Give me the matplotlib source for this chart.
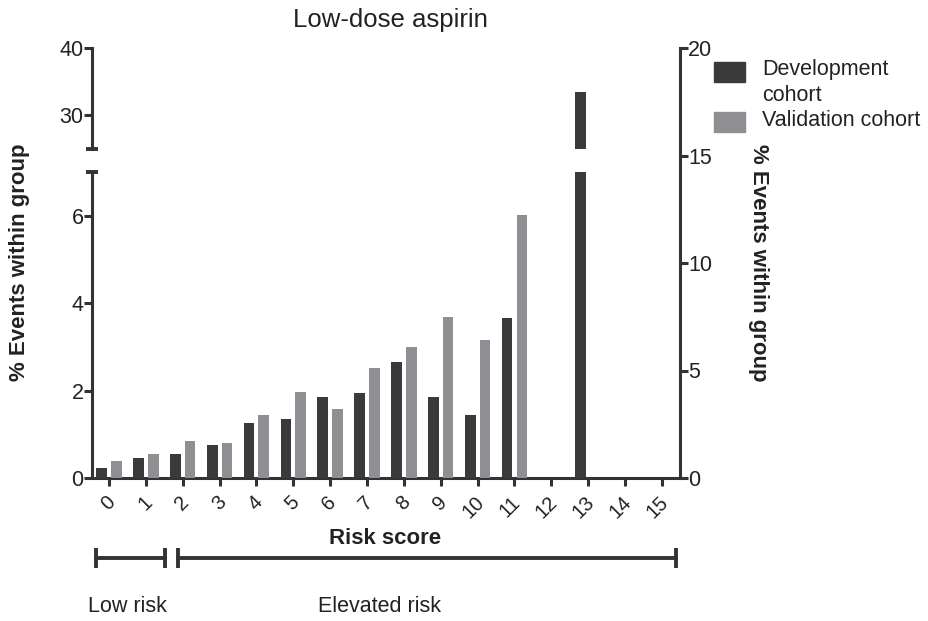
import numpy as np
import matplotlib
matplotlib.use("Agg")
import matplotlib.pyplot as plt
import matplotlib.transforms as mtransforms
from matplotlib.patches import Rectangle

plt.rcParams["font.family"] = ["Liberation Sans", "DejaVu Sans"]

# ---- data ----
risk_scores = list(range(16))
development = [0.22, 0.45, 0.55, 0.76, 1.25, 1.36, 1.85, 1.95, 2.65, 1.85, 1.45, 3.65, 0, 33.4, 0, 0]
validation = [0.38, 0.55, 0.85, 0.80, 1.44, 1.97, 1.58, 2.51, 3.00, 3.69, 3.16, 6.02, 0, 0, 0, 0]
lower_ticks = [0, 2, 4, 6]
upper_ticks = [30, 40]
right_ticks = [0, 5, 10, 15, 20]
groups = [("Low risk", -0.35, 1.52, 0.49), ("Elevated risk", 1.87, 15.37, 7.34)]
series_names = ["Development\ncohort", "Validation cohort"]

DARK = "#3a3a3a"
GREY = "#8f8f93"
AX = "#333333"
TXT = "#222222"
LW = 2.2
FS = 15.5

W_PX, H_PX = 929, 621
fig = plt.figure(figsize=(W_PX / 100, H_PX / 100), dpi=100)

def rect(x0, y_top, x1, y_bot):
    return [x0 / W_PX, 1 - y_bot / H_PX, (x1 - x0) / W_PX, (y_bot - y_top) / H_PX]

ax_r = fig.add_axes(rect(92, 48, 680, 478))
ax_lo = fig.add_axes(rect(92, 172, 680, 478))
ax_hi = fig.add_axes(rect(92, 48, 680, 149))

x = np.arange(len(risk_scores))
off, bw = 0.2, 0.29
xlim = (-0.46, 15.49)

for ax in (ax_lo, ax_hi):
    ax.bar(x - off, development, bw, color=DARK, zorder=3)
    ax.bar(x + off, validation, bw, color=GREY, zorder=3)
    ax.set_xlim(*xlim)
    ax.set_facecolor("none")
    for s in ("top", "right"):
        ax.spines[s].set_visible(False)
    ax.spines["left"].set_linewidth(LW)
    ax.spines["left"].set_color(AX)
    ax.tick_params(axis="y", direction="out", length=5.5, width=LW, color=AX,
                   labelsize=FS, labelcolor=TXT, pad=0.5)

ax_lo.set_ylim(0, 7)
ax_lo.set_yticks(lower_ticks)
ax_lo.spines["bottom"].set_linewidth(LW)
ax_lo.spines["bottom"].set_color(AX)
ax_lo.set_xticks(x)
ax_lo.set_xticklabels([str(v) for v in risk_scores], rotation=45, ha="right", va="top")
ax_lo.tick_params(axis="x", direction="out", length=5.5, width=LW, color=AX,
                  labelsize=14.5, labelcolor=TXT, pad=5)
shift = mtransforms.ScaledTranslation(10 / 100, 0, fig.dpi_scale_trans)
for lbl in ax_lo.get_xticklabels():
    lbl.set_transform(lbl.get_transform() + shift)

ax_hi.set_ylim(25, 40)
ax_hi.set_yticks(upper_ticks)
ax_hi.spines["bottom"].set_visible(False)
ax_hi.set_xticks([])

# caps at the axis break
for ax, yv in ((ax_lo, 7), (ax_hi, 25)):
    tr = mtransforms.blended_transform_factory(ax.transAxes, ax.transData)
    ax.plot([-0.010, 0.010], [yv, yv], transform=tr, color=AX, lw=LW + 0.6,
            solid_capstyle="butt", clip_on=False)

# right axis
ax_r.set_ylim(0, 20)
ax_r.set_xlim(*xlim)
ax_r.set_facecolor("none")
for s in ("top", "left", "bottom"):
    ax_r.spines[s].set_visible(False)
ax_r.spines["right"].set_linewidth(LW)
ax_r.spines["right"].set_color(AX)
ax_r.set_xticks([])
ax_r.yaxis.tick_right()
ax_r.yaxis.set_label_position("right")
ax_r.set_yticks(right_ticks)
ax_r.tick_params(axis="y", direction="out", length=5.5, width=LW, color=AX,
                 labelsize=FS, labelcolor=TXT, pad=0.5)
ax_r.set_ylabel("% Events within group", rotation=270, fontsize=16,
                fontweight="bold", color=TXT, labelpad=41)

# left y label spanning both segments
fig.text(20 / W_PX, 1 - 262 / H_PX, "% Events within group", rotation=90,
         fontsize=16, fontweight="bold", color=TXT, ha="center", va="center")

fig.text(390 / W_PX, 1 - 20 / H_PX, "Low-dose aspirin", fontsize=18.5,
         color=TXT, ha="center", va="center")

# x label and risk group brackets
trx = mtransforms.blended_transform_factory(ax_lo.transData, fig.transFigure)
ax_lo.text(7.5, 1 - 538 / H_PX, "Risk score", transform=trx, fontsize=16,
           fontweight="bold", color=TXT, ha="center", va="center")
yb = 1 - 558 / H_PX
cap = 10 / H_PX
for name, a, b, xc in groups:
    ax_lo.plot([a, b], [yb, yb], transform=trx, color=AX, lw=LW + 0.6, clip_on=False)
    for e in (a, b):
        ax_lo.plot([e, e], [yb - cap, yb + cap], transform=trx, color=AX,
                   lw=LW + 0.6, clip_on=False, solid_capstyle="butt")
    ax_lo.text(xc, 1 - 607 / H_PX, name, transform=trx, fontsize=15.5,
               color=TXT, ha="center", va="center")

# legend: swatch beside the first line of each entry
for (name, col, y_top) in ((series_names[0], DARK, 62), (series_names[1], GREY, 112)):
    fig.patches.append(Rectangle((714 / W_PX, 1 - (y_top + 19.5) / H_PX), 31 / W_PX, 19.5 / H_PX,
                                 transform=fig.transFigure, color=col))
    fig.text(762 / W_PX, 1 - (y_top - 2.5) / H_PX, name, fontsize=15.5, color=TXT,
             ha="left", va="top", linespacing=1.3)

fig.savefig("out.png", dpi=100)
